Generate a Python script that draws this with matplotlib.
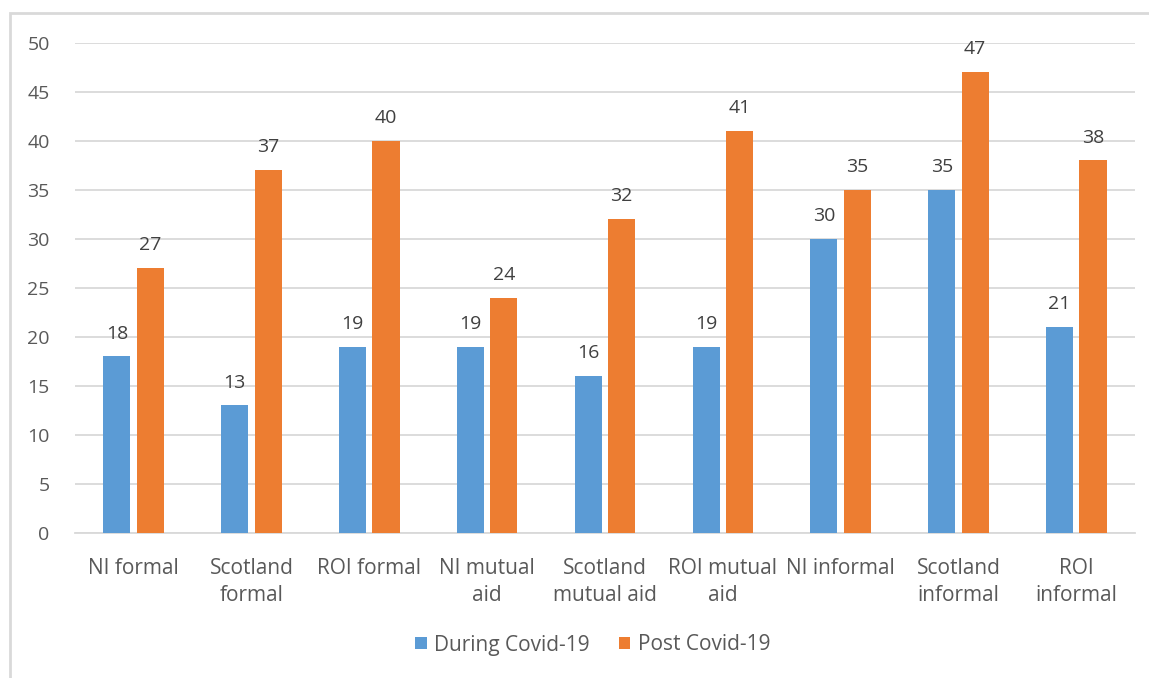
import matplotlib.pyplot as plt
import numpy as np
from matplotlib.patches import Rectangle

categories = ["NI formal", "Scotland\nformal", "ROI formal", "NI mutual\naid",
              "Scotland\nmutual aid", "ROI mutual\naid", "NI informal",
              "Scotland\ninformal", "ROI\ninformal"]
during = [18, 13, 19, 19, 16, 19, 30, 35, 21]
post = [27, 37, 40, 24, 32, 41, 35, 47, 38]

plt.rcParams['font.family'] = ['Open Sans', 'DejaVu Sans']

fig = plt.figure(figsize=(11.49, 6.78), dpi=100)
ax = fig.add_axes([0.065, 0.214, 0.923, 0.723])

# outer chart frame (runs off the right and bottom edge)
fig.patches.append(Rectangle((10 / 1149, -0.05), 1.2, 1 - 13 / 678 + 0.05,
                             transform=fig.transFigure, fill=False,
                             edgecolor="#d9d9d9", linewidth=2))

x = np.arange(len(categories))
w = 0.23
off = 0.142
b1 = ax.bar(x - off, during, w, color="#5b9bd5", label="During Covid-19", zorder=3)
b2 = ax.bar(x + off, post, w, color="#ed7d31", label="Post Covid-19", zorder=3)

for bars, vals in ((b1, during), (b2, post)):
    for r, v in zip(bars, vals):
        ax.text(r.get_x() + r.get_width() / 2, v + 1.4, str(v), ha="center",
                va="bottom", fontsize=14, color="#404040")

ax.set_xlim(-0.5, len(categories) - 0.5)
ax.set_ylim(0, 50)
ax.set_yticks(range(0, 51, 5))
ax.yaxis.grid(True, color="#d9d9d9", linewidth=1.3, zorder=0)
ax.set_xticks(x)
ax.set_xticklabels(categories, fontsize=15, color="#595959", linespacing=1.4)
ax.tick_params(axis="y", labelsize=14, labelcolor="#595959", length=0, pad=18)
ax.tick_params(axis="x", length=0, pad=18)
for s in ("top", "right", "left"):
    ax.spines[s].set_visible(False)
ax.spines["bottom"].set_color("#d9d9d9")
ax.spines["bottom"].set_linewidth(1.3)

fig.legend(loc="center", bbox_to_anchor=(0.516, 1 - 645 / 678), ncol=2,
           frameon=False, fontsize=15, handlelength=0.55, handleheight=0.55,
           handletextpad=0.35, columnspacing=1.4, labelcolor="#595959")

fig.savefig("out.png", dpi=100)
